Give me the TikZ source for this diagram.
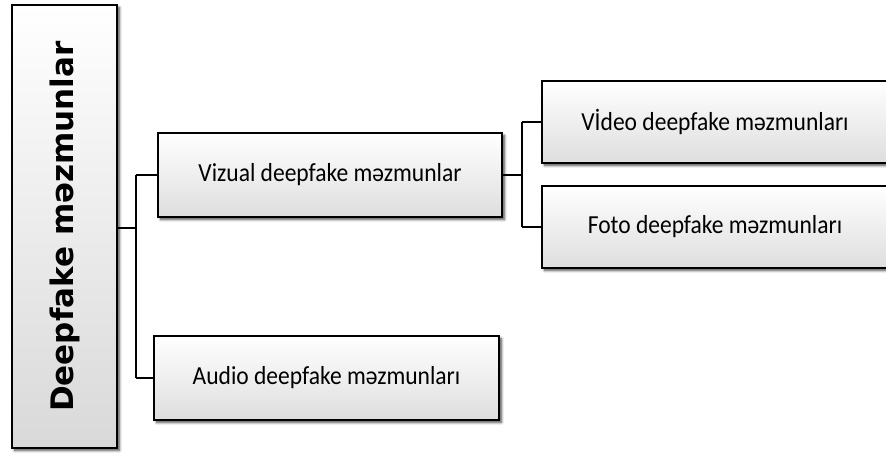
\documentclass[tikz,border=0pt]{standalone}
\usepackage{fontspec}
\setmainfont{Carlito}
\newfontfamily\rootfont{DejaVu Sans}
\usetikzlibrary{shadows.blur,calc}

\tikzset{
  box/.style={draw=black, line width=2pt, rectangle,
    top color=white, bottom color=black!13,
    blur shadow={shadow xshift=2.5pt, shadow yshift=-2.5pt, shadow blur radius=2.5pt,
                 shadow blur steps=6, shadow opacity=70},
    inner sep=0pt, font=\fontsize{26}{30}\selectfont},
  link/.style={draw=black, line width=2pt}
}

\newcommand{\narrow}[1]{\scalebox{0.905}[1]{#1}}

\begin{document}
\begin{tikzpicture}[x=1pt,y=-1pt]
  \useasboundingbox (0,0) rectangle (886,454);

  % root box with vertical title
  \node[box, minimum width=105pt, minimum height=443pt,
        top color=white, bottom color=black!15] (root) at (64.5,226.5) {};
  \node[rotate=90, font=\rootfont\bfseries\fontsize{31}{34}\selectfont] (title) at (root.center) {Deepfake məzmunlar};

  % second level
  \node[box, minimum width=344pt, minimum height=84pt] (viz) at (330,175) {\narrow{Vizual deepfake məzmunlar}};
  \node[box, minimum width=345pt, minimum height=84pt] (aud) at (326.5,378) {\narrow{Audio deepfake məzmunları}};

  % third level (right edge runs off the page)
  \node[box, minimum width=346pt, minimum height=82pt] (vid) at (715,122) {\narrow{Vİdeo deepfake məzmunları}};
  \node[box, minimum width=346pt, minimum height=82pt] (fot) at (715,227) {\narrow{Foto deepfake məzmunları}};

  % connectors
  \coordinate (j1) at (136,228);
  \coordinate (j2) at (522,175);
  \draw[link] (root.east |- j1) -- (j1);
  \draw[link] (j1 |- viz.west) -- (j1 |- aud.west);
  \draw[link] (j1 |- viz.west) -- (viz.west);
  \draw[link] (j1 |- aud.west) -- (aud.west);

  \draw[link] (viz.east) -- (j2);
  \draw[link] (j2 |- vid.west) -- (j2 |- fot.west);
  \draw[link] (j2 |- vid.west) -- (vid.west);
  \draw[link] (j2 |- fot.west) -- (fot.west);
\end{tikzpicture}
\end{document}
